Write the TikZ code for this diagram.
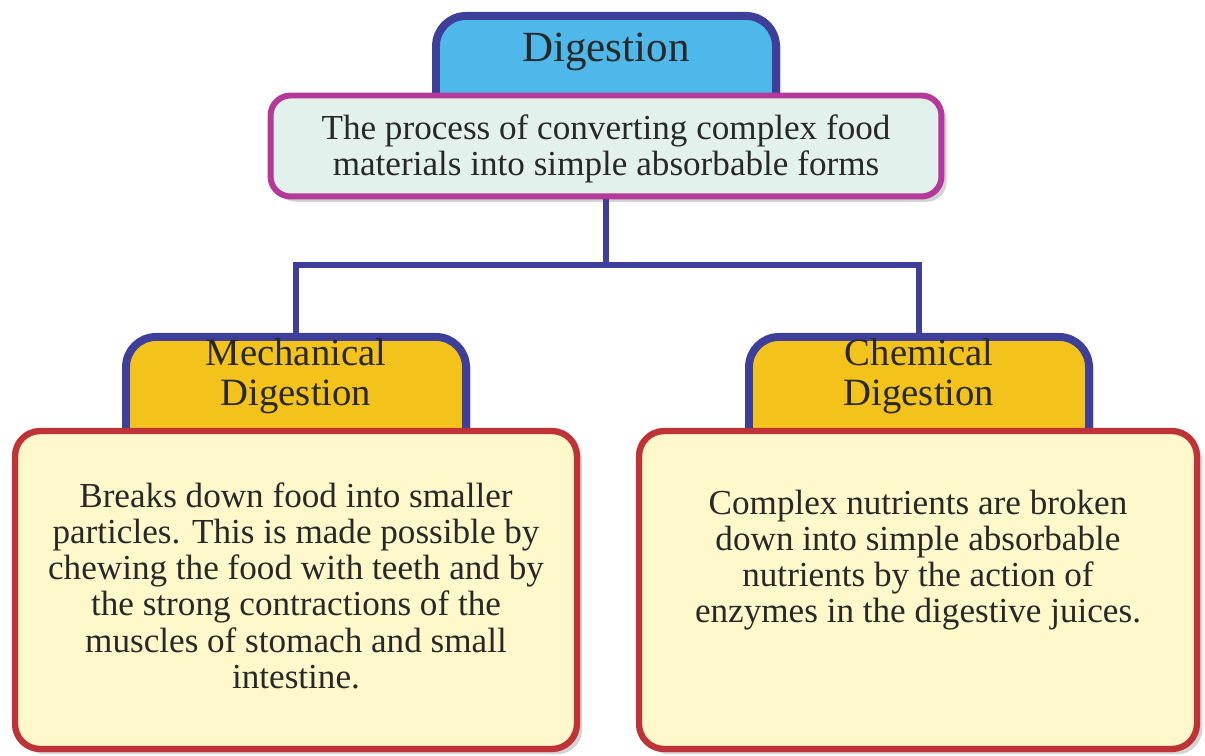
\documentclass[tikz,border=0pt]{standalone}
\usepackage{fontspec}
\setmainfont{Liberation Serif}
\usetikzlibrary{positioning,shadows}

\definecolor{tabnavy}{RGB}{62,63,155}
\definecolor{tabblue}{RGB}{79,184,234}
\definecolor{tabgold}{RGB}{243,194,27}
\definecolor{defpink}{RGB}{180,57,154}
\definecolor{deffill}{RGB}{227,241,236}
\definecolor{boxred}{RGB}{191,50,54}
\definecolor{boxfill}{RGB}{255,248,203}
\definecolor{inkgray}{RGB}{40,40,40}

\tikzset{
  shade box/.style={drop shadow={shadow xshift=3pt, shadow yshift=-3pt, opacity=0.35}},
  tabbox/.style={draw=tabnavy, line width=4.5pt, rounded corners=0.6cm,
    minimum width=6.8cm, minimum height=2.4cm, anchor=north, shade box},
  defbox/.style={draw=defpink, fill=deffill, line width=3.4pt, rounded corners=0.4cm,
    minimum width=13.42cm, minimum height=2.02cm, shade box},
  factbox/.style={draw=boxred, fill=boxfill, line width=3.6pt, rounded corners=0.5cm,
    minimum height=6.36cm, shade box},
  headtext/.style={text=inkgray, font=\fontsize{24.5}{26}\selectfont},
  tabtext/.style={text=inkgray, align=center, font=\fontsize{22}{22.6}\selectfont},
  bodytext/.style={text=inkgray, align=center, font=\fontsize{20}{20.6}\selectfont},
  link/.style={draw=tabnavy, line width=3.4pt}
}

\begin{document}
\begin{tikzpicture}[x=0.02cm, y=-0.02cm]
\useasboundingbox (0,0) rectangle (1205,756);

%------------------ TOP (Digestion) ------------------%
\node[tabbox, fill=tabblue, minimum height=2.3cm] (digtab) at (606,12) {};
\node[headtext] (digtitle) at (606,52) {Digestion};

\node[defbox] (defn) at (606,146) {};
\node[bodytext] (defntext) at ([yshift=-1.5pt]defn.center)
  {The process of converting complex food\\materials into simple absorbable forms};

%------------------ TABS ------------------%
\node[tabbox, fill=tabgold] (mechtab) at (296,333) {};
\node[tabtext] (mechtitle) at (296,376) {Mechanical\\Digestion};

\node[tabbox, fill=tabgold] (chemtab) at (919,333) {};
\node[tabtext] (chemtitle) at (919,376) {Chemical\\Digestion};

%------------------ BOXES ------------------%
\node[factbox, minimum width=11.24cm] (mechbox) at (296,590) {};
\node[bodytext] (mechtext) at ([yshift=2.5pt]mechbox.center)
  {Breaks down food into smaller\\particles. This is made possible by\\chewing the food with teeth and by\\the strong contractions of the\\muscles of stomach and small\\intestine.};

\node[factbox, minimum width=11.16cm] (chembox) at (918,590) {};
\node[bodytext] (chemtext) at ([yshift=17pt]chembox.center)
  {Complex nutrients are broken\\down into simple absorbable\\nutrients by the action of\\enzymes in the digestive juices.};

%------------------ CONNECTORS ------------------%
\coordinate (fork) at (606,265);
\draw[link] (defn.south) -- (fork);
\draw[link] (fork) -| (mechtab.north);
\draw[link] (fork) -| (chemtab.north);

\end{tikzpicture}
\end{document}
